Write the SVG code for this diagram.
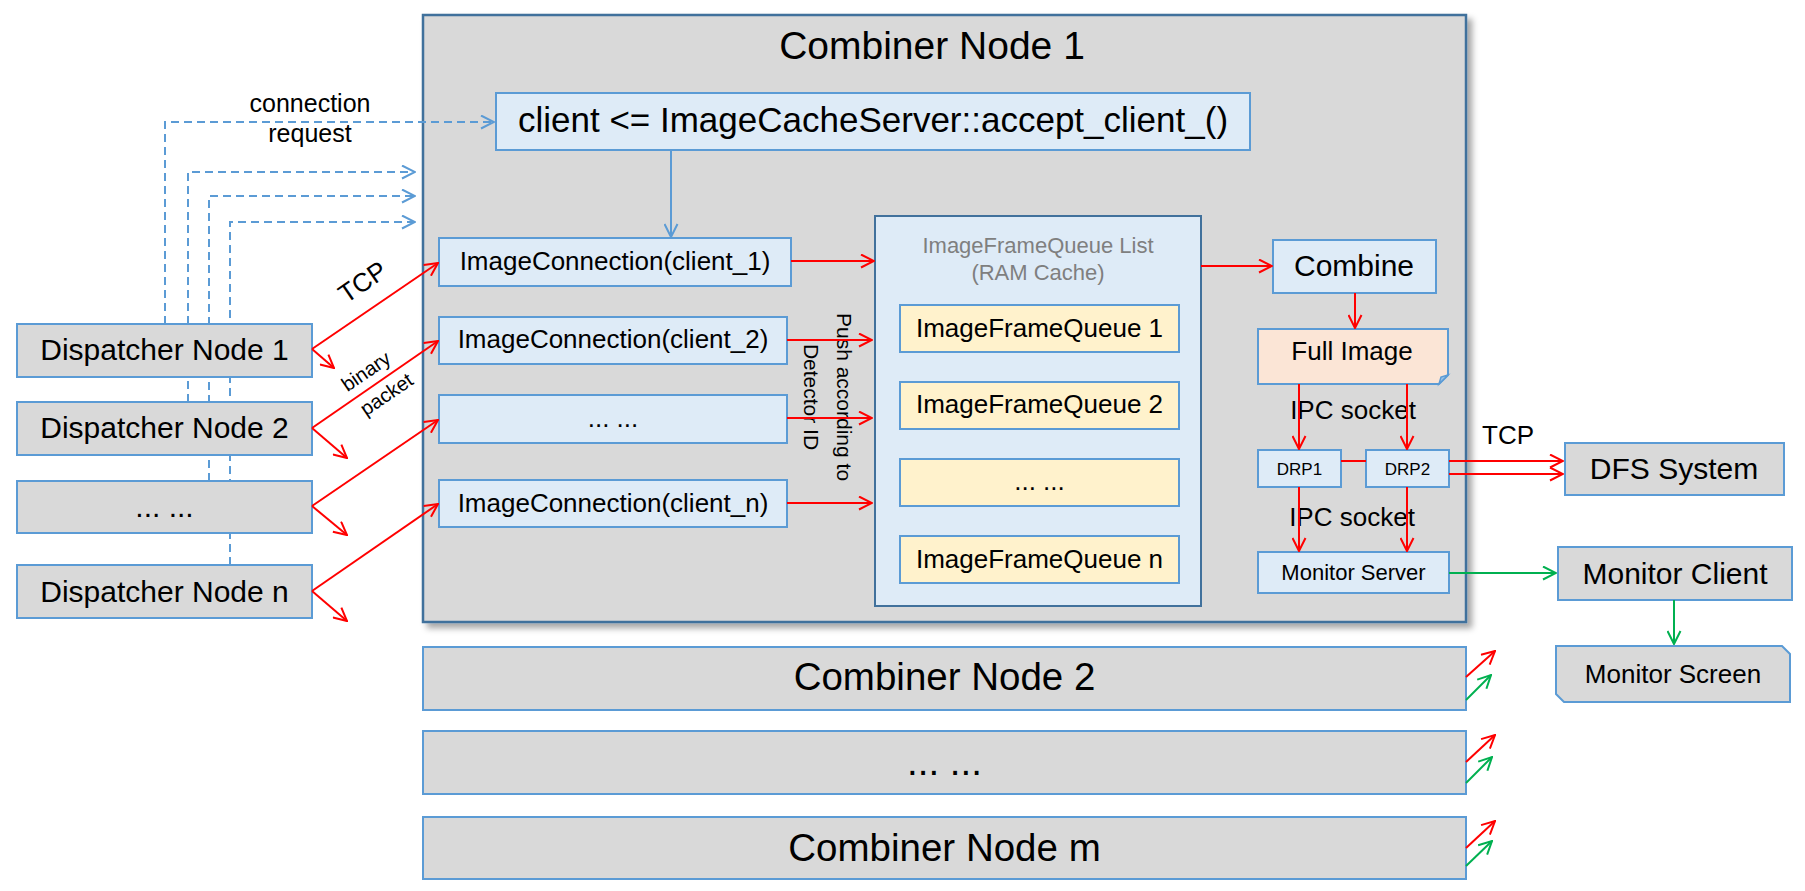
<svg xmlns="http://www.w3.org/2000/svg" width="1805" height="891" viewBox="0 0 1805 891">
<style>
text{font-family:"Liberation Sans",Arial,sans-serif;fill:#000}
.gray{fill:#d9d9d9;stroke:#5b9bd5;stroke-width:2}
.lb{fill:#deebf7;stroke:#5b9bd5;stroke-width:2}
.yl{fill:#fff2cc;stroke:#5b9bd5;stroke-width:2}
.red{stroke:#ff0000;stroke-width:2;fill:none;marker-end:url(#ar)}
.redl{stroke:#ff0000;stroke-width:2;fill:none}
.grn{stroke:#00b050;stroke-width:2;fill:none;marker-end:url(#ag)}
.dash{stroke:#5b9bd5;stroke-width:2;stroke-dasharray:8 5;fill:none}
.blu{stroke:#5b9bd5;stroke-width:2;fill:none;marker-end:url(#ab)}
.dashA{marker-end:url(#ab)}
</style>
<defs>
<marker id="ar" viewBox="0 0 15 15" refX="14" refY="7.5" markerWidth="15" markerHeight="15" markerUnits="userSpaceOnUse" orient="auto"><path d="M1,1 L14,7.5 L1,14" fill="none" stroke="#ff0000" stroke-width="2"/></marker>
<marker id="ag" viewBox="0 0 15 15" refX="14" refY="7.5" markerWidth="15" markerHeight="15" markerUnits="userSpaceOnUse" orient="auto"><path d="M1,1 L14,7.5 L1,14" fill="none" stroke="#00b050" stroke-width="2"/></marker>
<marker id="ab" viewBox="0 0 15 15" refX="14" refY="7.5" markerWidth="15" markerHeight="15" markerUnits="userSpaceOnUse" orient="auto"><path d="M1,1 L14,7.5 L1,14" fill="none" stroke="#5b9bd5" stroke-width="2"/></marker>
<filter id="sh" x="-5%" y="-5%" width="112%" height="112%"><feDropShadow dx="5" dy="5" stdDeviation="3" flood-color="#000" flood-opacity="0.35"/></filter>
</defs>
<rect width="1805" height="891" fill="#fff"/>

<g id="combiner-node-1">
<rect x="423" y="15" width="1043" height="607" fill="#d9d9d9" stroke="#41719c" stroke-width="2.5" filter="url(#sh)"/>
<text x="932" y="59" font-size="39" text-anchor="middle">Combiner Node 1</text>
</g>

<g id="dashed-connectors">
<path class="dash dashA" d="M165,324 V122 H494"/>
<path class="dash dashA" d="M188,402 V172 H415"/>
<path class="dash dashA" d="M209,481 V196 H415"/>
<path class="dash dashA" d="M230,565 V222 H415"/>
</g>
<g id="conn-label">
<text x="310" y="112" font-size="25" text-anchor="middle">connection</text>
<text x="310" y="142" font-size="25" text-anchor="middle">request</text>
</g>

<g id="dispatcher-1"><rect class="gray" x="17" y="324" width="295" height="53"/><text x="164.5" y="360" font-size="30" text-anchor="middle">Dispatcher Node 1</text></g>
<g id="dispatcher-2"><rect class="gray" x="17" y="402" width="295" height="53"/><text x="164.5" y="438" font-size="30" text-anchor="middle">Dispatcher Node 2</text></g>
<g id="dispatcher-dots"><rect class="gray" x="17" y="481" width="295" height="52"/><text x="164.5" y="517" font-size="30" text-anchor="middle">... ...</text></g>
<g id="dispatcher-n"><rect class="gray" x="17" y="565" width="295" height="53"/><text x="164.5" y="602" font-size="30" text-anchor="middle">Dispatcher Node n</text></g>

<g id="accept-client"><rect class="lb" x="496" y="93" width="754" height="57"/><text x="873" y="132" font-size="35" text-anchor="middle">client &lt;= ImageCacheServer::accept_client_()</text></g>

<g id="ic-1"><rect class="lb" x="439" y="238" width="352" height="48"/><text x="615" y="270" font-size="26" text-anchor="middle">ImageConnection(client_1)</text></g>
<g id="ic-2"><rect class="lb" x="439" y="317" width="348" height="47"/><text x="613" y="348" font-size="26" text-anchor="middle">ImageConnection(client_2)</text></g>
<g id="ic-dots"><rect class="lb" x="439" y="395" width="348" height="48"/><text x="613" y="427" font-size="26" text-anchor="middle">... ...</text></g>
<g id="ic-n"><rect class="lb" x="439" y="480" width="348" height="47"/><text x="613" y="512" font-size="26" text-anchor="middle">ImageConnection(client_n)</text></g>

<g id="queue-list">
<rect x="875" y="216" width="326" height="390" fill="#deebf7" stroke="#41719c" stroke-width="2"/>
<text x="1038" y="253" font-size="22" text-anchor="middle" style="fill:#7f7f7f">ImageFrameQueue List</text>
<text x="1038" y="280" font-size="22" text-anchor="middle" style="fill:#7f7f7f">(RAM Cache)</text>
</g>
<g id="queue-1"><rect class="yl" x="900" y="305" width="279" height="47"/><text x="1039.5" y="337" font-size="26" text-anchor="middle">ImageFrameQueue 1</text></g>
<g id="queue-2"><rect class="yl" x="900" y="382" width="279" height="47"/><text x="1039.5" y="413" font-size="26" text-anchor="middle">ImageFrameQueue 2</text></g>
<g id="queue-dots"><rect class="yl" x="900" y="459" width="279" height="47"/><text x="1039.5" y="490" font-size="26" text-anchor="middle">... ...</text></g>
<g id="queue-n"><rect class="yl" x="900" y="536" width="279" height="47"/><text x="1039.5" y="568" font-size="26" text-anchor="middle">ImageFrameQueue n</text></g>

<g id="push-label"><text transform="translate(837,397) rotate(90)" font-size="21" text-anchor="middle"><tspan x="0" y="0">Push according to</tspan><tspan x="0" y="33">Detector ID</tspan></text></g>

<g id="combine"><rect class="lb" x="1273" y="240" width="163" height="53"/><text x="1354" y="276" font-size="30" text-anchor="middle">Combine</text></g>
<g id="full-image">
<path d="M1258,329 H1448 V375 L1439,384 H1258 Z" fill="#fbe5d6" stroke="#5b9bd5" stroke-width="2"/>
<path d="M1448,375 L1441,377 L1439,384 Z" fill="#9dc3e6" stroke="#5b9bd5" stroke-width="1.5"/>
<text x="1352" y="360" font-size="26" text-anchor="middle">Full Image</text>
</g>
<g id="drp-1"><rect class="lb" x="1258" y="450" width="83" height="37"/><text x="1299.5" y="475" font-size="17" text-anchor="middle">DRP1</text></g>
<g id="drp-2"><rect class="lb" x="1366" y="450" width="83" height="37"/><text x="1407.5" y="475" font-size="17" text-anchor="middle">DRP2</text></g>
<g id="monitor-server"><rect class="lb" x="1258" y="552" width="191" height="41"/><text x="1353.5" y="580" font-size="22" text-anchor="middle">Monitor Server</text></g>
<g id="ipc-labels">
<text x="1353" y="419" font-size="26" text-anchor="middle">IPC socket</text>
<text x="1352" y="526" font-size="26" text-anchor="middle">IPC socket</text>
</g>

<g id="dfs-system"><rect class="gray" x="1565" y="443" width="219" height="52"/><text x="1674" y="479" font-size="30" text-anchor="middle">DFS System</text></g>
<g id="monitor-client"><rect class="gray" x="1558" y="547" width="234" height="53"/><text x="1675" y="584" font-size="30" text-anchor="middle">Monitor Client</text></g>
<g id="monitor-screen"><path d="M1556,646 H1782 L1790,654 V702 H1564 L1556,694 Z" class="gray"/><text x="1673" y="683" font-size="26" text-anchor="middle">Monitor Screen</text></g>

<g id="combiner-node-2"><rect class="gray" x="423" y="647" width="1043" height="63"/><text x="944.5" y="690" font-size="38.5" text-anchor="middle">Combiner Node 2</text></g>
<g id="combiner-node-dots"><rect class="gray" x="423" y="731" width="1043" height="63"/><text x="944.5" y="775" font-size="38.5" text-anchor="middle">... ...</text></g>
<g id="combiner-node-m"><rect class="gray" x="423" y="817" width="1043" height="62"/><text x="944.5" y="861" font-size="38.5" text-anchor="middle">Combiner Node m</text></g>

<g id="connectors">
<path class="blu" d="M671,150 V237"/>
<path class="red" d="M312,349 L438,263"/>
<path class="red" d="M312,349 L334,368"/>
<path class="red" d="M312,428 L438,341"/>
<path class="red" d="M312,428 L347,458"/>
<path class="red" d="M312,506 L438,420"/>
<path class="red" d="M312,506 L347,535"/>
<path class="red" d="M312,591 L438,504"/>
<path class="red" d="M312,591 L347,621"/>
<path class="red" d="M791,261 H874"/>
<path class="red" d="M787,340 H872"/>
<path class="red" d="M787,418 H872"/>
<path class="red" d="M787,503 H872"/>
<path class="red" d="M1201,266 H1272"/>
<path class="red" d="M1355,293 V328"/>
<path class="red" d="M1299,384 V449"/>
<path class="red" d="M1407,384 V449"/>
<path class="redl" d="M1341,461 H1366"/>
<path class="red" d="M1299,487 V551"/>
<path class="red" d="M1407,487 V551"/>
<path class="red" d="M1449,461 H1563"/>
<path class="red" d="M1449,474 H1563"/>
<path class="grn" d="M1449,573 H1556"/>
<path class="grn" d="M1674,600 V644"/>
<path class="red" d="M1466,677 L1495,651"/>
<path class="grn" d="M1466,700 L1491,675"/>
<path class="red" d="M1466,762 L1495,735"/>
<path class="grn" d="M1466,783 L1492,757"/>
<path class="red" d="M1466,848 L1495,821"/>
<path class="grn" d="M1466,866 L1492,841"/>
</g>
<g id="connector-labels">
<text transform="translate(362.5,282) rotate(-34.4)" y="9" font-size="26" text-anchor="middle">TCP</text>
<text transform="translate(366.5,372) rotate(-34.4)" y="6" font-size="20" text-anchor="middle">binary</text>
<text transform="translate(387,395) rotate(-34.4)" y="6" font-size="20" text-anchor="middle">packet</text>
<text x="1482" y="444" font-size="26">TCP</text>
</g>
</svg>
